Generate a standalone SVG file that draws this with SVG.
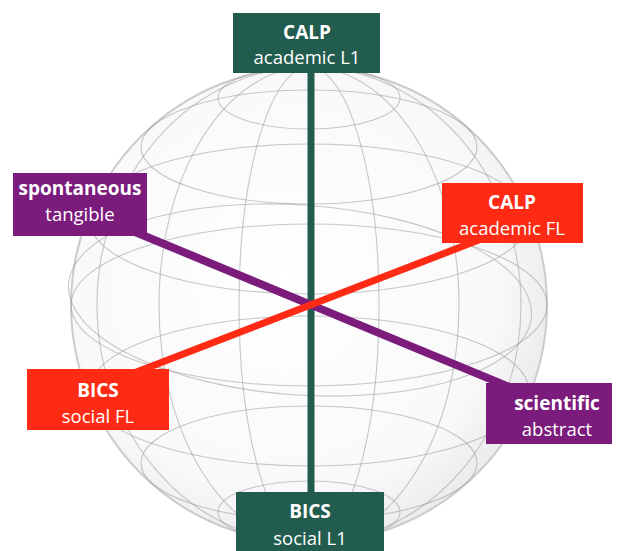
<svg xmlns="http://www.w3.org/2000/svg" width="617" height="551" viewBox="0 0 617 551">
<style>
.grid{fill:none;stroke:#9a9a9a;stroke-width:1.1;opacity:0.55}
.t1{font-family:"Open Sans","Liberation Sans",sans-serif;font-weight:bold;font-size:19px;fill:#fff;text-anchor:middle}
.t2{font-family:"Open Sans","Liberation Sans",sans-serif;font-size:18.5px;fill:#fff;text-anchor:middle}
.green{fill:#225C4E}
.purple{fill:#7B1C7D}
.red{fill:#FF2A14}
</style>
<defs>
<radialGradient id="sg" cx="0.45" cy="0.45" r="0.6">
<stop offset="0" stop-color="#ffffff"/>
<stop offset="0.75" stop-color="#f9f9f9"/>
<stop offset="1" stop-color="#e8e8e8"/>
</radialGradient>
</defs>
<g id="sphere">
<circle cx="309" cy="305" r="238" fill="url(#sg)" stroke="#cccccc" stroke-width="2"/>
<ellipse class="grid" cx="309" cy="305" rx="238" ry="81"/>
<ellipse class="grid" cx="309" cy="219" rx="220" ry="75"/>
<ellipse class="grid" cx="309" cy="391" rx="220" ry="75"/>
<ellipse class="grid" cx="309" cy="147" rx="168" ry="57"/>
<ellipse class="grid" cx="309" cy="463" rx="168" ry="57"/>
<ellipse class="grid" cx="309" cy="98" rx="91" ry="31"/>
<ellipse class="grid" cx="309" cy="512" rx="91" ry="31"/>
<ellipse class="grid" cx="309" cy="305" rx="70" ry="238"/>
<ellipse class="grid" cx="309" cy="305" rx="150" ry="238"/>
<ellipse class="grid" cx="309" cy="305" rx="212" ry="238"/>
<ellipse class="grid" cx="300" cy="300" rx="232" ry="95" transform="rotate(4 300 300)"/>
</g>
<g id="connectors">
<line x1="311" y1="70" x2="311" y2="495" stroke="#225C4E" stroke-width="7"/>
<line x1="100" y1="217.5" x2="530" y2="395.5" stroke="#7B1C7D" stroke-width="8"/>
<line x1="130" y1="374.6" x2="480" y2="239.6" stroke="#FF2A14" stroke-width="7"/>
</g>
<g id="calp-l1">
<rect class="green" x="233" y="13" width="147" height="60"/>
<text class="t1" x="307" y="39">CALP</text>
<text class="t2" x="307" y="64">academic L1</text>
</g>
<g id="bics-l1">
<rect class="green" x="236" y="492" width="148" height="60"/>
<text class="t1" x="310" y="518">BICS</text>
<text class="t2" x="310" y="545">social L1</text>
</g>
<g id="spontaneous">
<rect class="purple" x="13" y="173" width="134" height="63"/>
<text class="t1" x="80" y="195">spontaneous</text>
<text class="t2" x="80" y="221">tangible</text>
</g>
<g id="scientific">
<rect class="purple" x="486" y="383" width="126" height="61"/>
<text class="t1" x="557" y="410">scientific</text>
<text class="t2" x="557" y="436">abstract</text>
</g>
<g id="calp-fl">
<rect class="red" x="442" y="183" width="141" height="60"/>
<text class="t1" x="512" y="209">CALP</text>
<text class="t2" x="512" y="235">academic FL</text>
</g>
<g id="bics-fl">
<rect class="red" x="27" y="369" width="142" height="61"/>
<text class="t1" x="98" y="397">BICS</text>
<text class="t2" x="98" y="423">social FL</text>
</g>
</svg>
